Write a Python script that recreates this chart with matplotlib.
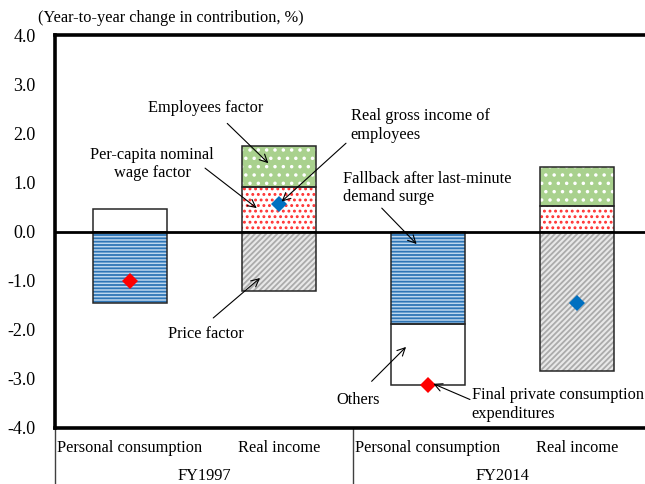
import matplotlib
matplotlib.use("Agg")
import matplotlib.pyplot as plt
import numpy as np

plt.rcParams['font.family'] = ['Liberation Serif', 'DejaVu Serif']
plt.rcParams['hatch.linewidth'] = 1.3

# ---- data ----
categories = ['Personal consumption', 'Real income', 'Personal consumption', 'Real income']
groups = ['FY1997', 'FY2014']
fallback = [-1.455, 0.0, -1.88, 0.0]     # Fallback after last-minute demand surge
others = [0.455, 0.0, -1.24, 0.0]        # Others
per_capita = [0.0, 0.91, 0.0, 0.52]      # Per-capita nominal wage factor
employees = [0.0, 0.83, 0.0, 0.80]       # Employees factor
price = [0.0, -1.22, 0.0, -2.83]         # Price factor
total_consumption = [-1.0, None, -3.12, None]   # Final private consumption expenditures
total_income = [None, 0.56, None, -1.46]        # Real gross income of employees
yticks = [4.0, 3.0, 2.0, 1.0, 0.0, -1.0, -2.0, -3.0, -4.0]

FS = 11.8

fig = plt.figure(figsize=(6.45, 4.84), dpi=100)
W, H = 645, 484
left, right, top, bottom = 55.3, 651.3, 35, 428
ax = fig.add_axes([left / W, 1 - bottom / H, (right - left) / W, (bottom - top) / H])

x = np.arange(len(categories))
width = 0.5

series = [
    (fallback, dict(face='#bdd7ee', hatch='-----', hc='#2e75b6')),
    (others, dict(face='white', hatch=None, hc='white')),
    (per_capita, dict(face='white', hatch='...', hc='#ff3030')),
    (employees, dict(face='#a9d18e', hatch='..', hc='white')),
    (price, dict(face='#e8e8e8', hatch='//////', hc='#ababab')),
]

pos_base = np.zeros(len(x))
neg_base = np.zeros(len(x))
for vals, st in series:
    vals = np.array(vals, dtype=float)
    bottoms = np.where(vals >= 0, pos_base, neg_base)
    mask = vals != 0
    ax.bar(x[mask], vals[mask], width, bottom=bottoms[mask], color=st['face'],
           edgecolor=st['hc'], hatch=st['hatch'], linewidth=0, zorder=2)
    ax.bar(x[mask], vals[mask], width, bottom=bottoms[mask], fill=False,
           edgecolor='#262626', linewidth=1.1, zorder=3)
    pos_base = np.where(vals >= 0, pos_base + vals, pos_base)
    neg_base = np.where(vals < 0, neg_base + vals, neg_base)

ax.axhline(0, color='black', lw=2, zorder=4)

for i, v in enumerate(total_consumption):
    if v is not None:
        ax.plot(x[i], v, marker='D', ms=7.8, color='#ff0000', mew=0, zorder=6, clip_on=False)
for i, v in enumerate(total_income):
    if v is not None:
        ax.plot(x[i], v, marker='D', ms=7.8, color='#0070c0', mew=0, zorder=6)

ax.set_xlim(-0.5, 3.5)
ax.set_ylim(-4, 4)
ax.set_yticks(yticks)
ax.set_yticklabels([f'{t:.1f}' for t in yticks], fontsize=13)
ax.tick_params(axis='y', length=0, pad=14)
ax.set_xticks([])
for s in ['left', 'top', 'bottom']:
    ax.spines[s].set_linewidth(2.6)
ax.spines['right'].set_visible(False)

# category table below the axis
trans = ax.get_xaxis_transform()
depth = (H - bottom) / (bottom - top)
for xv in [-0.5, 1.5]:
    ax.plot([xv, xv], [0, -depth - 0.02], transform=trans, color='#404040', lw=1.0, clip_on=False)
cat_y = -(448 - bottom) / (bottom - top)
grp_y = -(476 - bottom) / (bottom - top)
for i, c in enumerate(categories):
    ax.text(x[i], cat_y, c, transform=trans, ha='center', va='center', fontsize=FS)
for g, xv in zip(groups, [0.5, 2.5]):
    ax.text(xv, grp_y, g, transform=trans, ha='center', va='center', fontsize=FS)

fig.text(171 / W, 1 - 18 / H, '(Year-to-year change in contribution, %)', ha='center', va='center', fontsize=FS)

arrow = dict(arrowstyle='->', lw=0.8, color='black', shrinkA=0, shrinkB=0, mutation_scale=14)
ann = [
    ('Employees factor', (0.511, 2.52), 'center', (0.654, 2.20), (0.93, 1.39)),
    ('Per-capita nominal\nwage factor', (0.149, 1.376), 'center', (0.505, 1.29), (0.852, 0.476)),
    ('Real gross income of\nemployees', (1.483, 2.16), 'left', (1.451, 1.797), (1.019, 0.61)),
    ('Fallback after last-minute\ndemand surge', (1.429, 0.888), 'left', (1.691, 0.476), (1.925, -0.256)),
    ('Price factor', (0.511, -2.08), 'center', (0.560, -1.76), (0.874, -0.947)),
    ('Others', (1.532, -3.42), 'center', (1.623, -3.05), (1.854, -2.35)),
    ('Final private consumption\nexpenditures', (2.295, -3.52), 'left', (2.283, -3.42), (2.037, -3.10)),
]
for txt, pos, ha, tail, head in ann:
    ax.text(pos[0], pos[1], txt, ha=ha, va='center', fontsize=FS, linespacing=1.2, zorder=7)
    ax.annotate('', xy=head, xytext=tail, arrowprops=arrow, zorder=8)

fig.savefig('out.png', dpi=100)
